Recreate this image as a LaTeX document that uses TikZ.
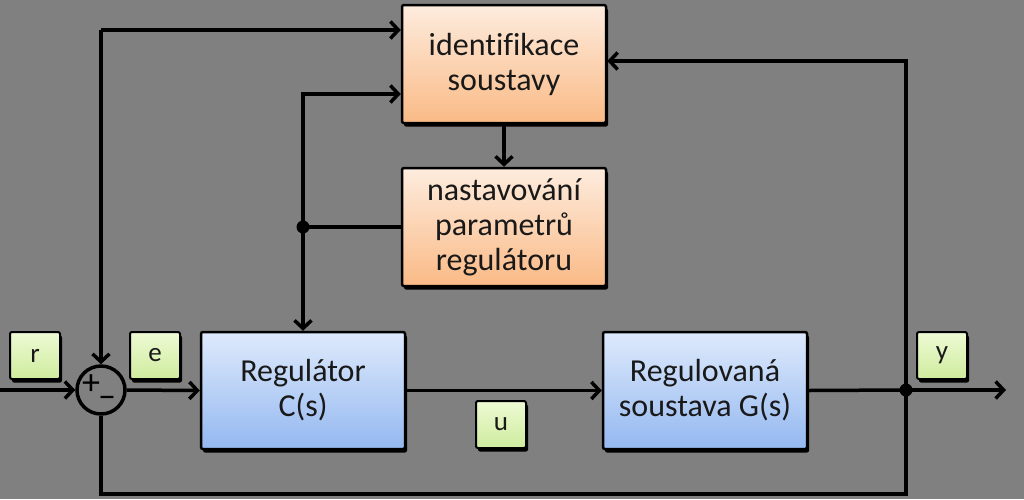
\documentclass[tikz,border=0pt]{standalone}
\usepackage{fontspec}
\setmainfont[Ligatures=CommonOff]{Carlito}
\usetikzlibrary{arrows.meta,shadows,calc}
\definecolor{bg}{RGB}{128,128,128}
\definecolor{otop}{RGB}{253,236,222}
\definecolor{obot}{RGB}{250,186,134}
\definecolor{btop}{RGB}{222,234,252}
\definecolor{bbot}{RGB}{148,184,240}
\definecolor{gtop}{RGB}{238,250,212}
\definecolor{gbot}{RGB}{206,236,158}
\tikzset{
  blk/.style={draw=black, line width=2.5pt, rounded corners=2pt, align=center,
    text=black!90, font=\fontsize{32}{35}\selectfont,
    drop shadow={shadow xshift=2pt, shadow yshift=-3.5pt, fill=black, opacity=1}},
  obox/.style={blk, top color=otop, bottom color=obot, minimum width=204pt, minimum height=118pt},
  bbox/.style={blk, top color=btop, bottom color=bbot, minimum width=204pt, minimum height=117pt},
  gbox/.style={blk, top color=gtop, bottom color=gbot, minimum width=50pt, minimum height=47pt,
    font=\fontsize{27}{28}\selectfont, line width=2pt},
  wire/.style={line width=3.5pt, line join=miter},
  arr/.style={wire, -{Straight Barb[length=8pt,width=17pt]}},
  sign/.style={inner sep=0pt, text=black},
}
\begin{document}
\begin{tikzpicture}[x=1pt,y=-1pt]
\fill[bg] (0,0) rectangle (1024,499);
\useasboundingbox (0,0) rectangle (1024,499);

\node[obox] (id) at (504,64) {identifikace\\soustavy};
\node[obox] (nast) at (504,227) {nastavování\\parametrů\\regulátoru};
\node[bbox] (reg) at (303,390.5) {Regulátor\\C(s)};
\node[bbox] (plant) at (705,390.5) {Regulovaná\\soustava G(s)};

\node[gbox] (r) at (35,355.5) {r};
\node[gbox] (e) at (155,355.5) {e};
\node[gbox] (u) at (501,424.5) {u};
\node[gbox] (y) at (942,355.5) {y};

\node[circle, draw=black, line width=3.5pt, minimum size=48pt, inner sep=0pt] (sum) at (101,390) {};
\node[sign, font=\fontsize{36}{36}\selectfont] (plus) at (91,385) {+};
\node[sign, font=\fontsize{36}{36}\selectfont] (minus) at (107,402) {–};

\coordinate (in) at (0,390);
\coordinate (yj) at (906,390);
\coordinate (out) at (1006,390);
\coordinate (fb) at (906,494);
\coordinate (c1) at (101,30);
\coordinate (c2) at (303,94);
\coordinate (dj) at (303,227);
\coordinate (c3) at (906,61);

\draw[arr] (in) -- (sum.west);
\draw[arr] (sum.east) -- (reg.west);
\draw[arr] (reg.east) -- (plant.west);
\draw[wire] (plant.east) -- (yj);
\draw[arr] (yj) -- (out);
\draw[wire] (yj) -- (fb) -| (sum.south);
\draw[arr] (yj) -- (c3) -- (c3 -| id.east);
\draw[arr] (c1) -- (sum.north);
\draw[arr] (c1) -- (c1 -| id.west);
\draw[arr] (id.south) -- (nast.north);
\draw[wire] (nast.west) -- (dj);
\draw[arr] (dj) -- (reg.north);
\draw[arr] (dj) -- (c2) -- (c2 -| id.west);
\fill (yj) circle (6.5pt);
\fill (dj) circle (6.5pt);
\end{tikzpicture}
\end{document}
